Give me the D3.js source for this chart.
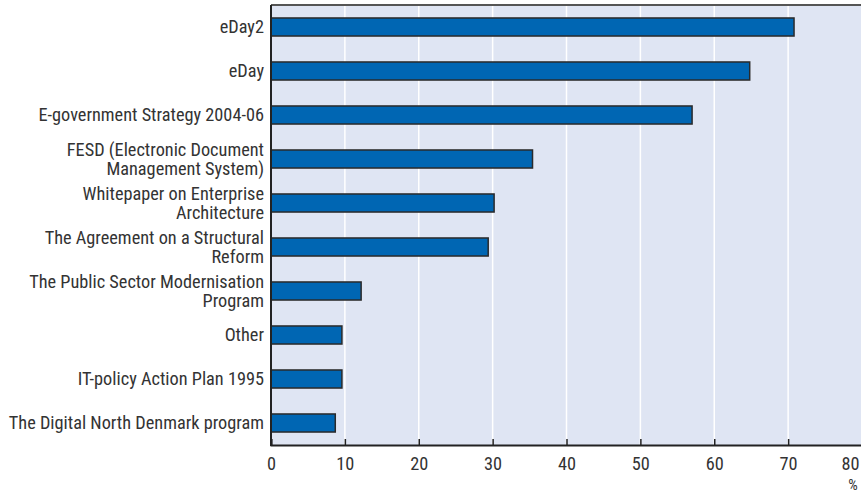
<!DOCTYPE html>
<html><head><meta charset="utf-8">
<script src="https://cdn.jsdelivr.net/npm/d3@7"></script>
<style>body{margin:0;background:#fff}svg{display:block}</style>
</head><body><svg id="c" width="861" height="495"></svg>
<script>
const categories = [
  ["eDay2"],
  ["eDay"],
  ["E-government Strategy 2004-06"],
  ["FESD (Electronic Document", "Management System)"],
  ["Whitepaper on Enterprise", "Architecture"],
  ["The Agreement on a Structural", "Reform"],
  ["The Public Sector Modernisation", "Program"],
  ["Other"],
  ["IT-policy Action Plan 1995"],
  ["The Digital North Denmark program"]
];
const values = [70.8, 64.8, 57.0, 35.4, 30.2, 29.4, 12.2, 9.6, 9.6, 8.7];
const xTicks = [0, 10, 20, 30, 40, 50, 60, 70, 80];
const unitLabel = "%";

(function () {
const font = "'Liberation Sans Narrow','Arial Narrow','Roboto Condensed','Liberation Sans',sans-serif";
const fs = 18.3;
const svg = d3.select("#c");
const pL = 271, pR = 862, pT = 5, pB = 445;
const x = d3.scaleLinear().domain([0, 80]).range([pL, pR]);
const y = d3.scaleBand().domain(d3.range(categories.length)).range([pT, pB]).paddingInner(0.59).paddingOuter(0.295);

svg.append("rect").attr("x", pL).attr("y", pT).attr("width", pR - pL).attr("height", pB - pT).attr("fill", "#dfe5f3");

svg.append("g").selectAll("line").data(xTicks.slice(1)).join("line")
  .attr("x1", d => x(d)).attr("x2", d => x(d)).attr("y1", pT).attr("y2", pB)
  .attr("stroke", "#fff").attr("stroke-width", 1.5);

svg.append("g").selectAll("rect").data(values).join("rect")
  .attr("x", x(0)).attr("y", (d, i) => y(i)).attr("width", d => x(d) - x(0)).attr("height", y.bandwidth())
  .attr("fill", "#0066b3").attr("stroke", "#2a2a2a").attr("stroke-width", 1.5);

svg.append("line").attr("x1", pL).attr("x2", 861).attr("y1", pT).attr("y2", pT).attr("stroke", "#555").attr("stroke-width", 2);

const xAxis = d3.axisBottom(x).tickValues(xTicks).tickSize(-6).tickPadding(12).tickFormat(d3.format("d"));
const ga = svg.append("g").attr("transform", `translate(0,${pB})`).call(xAxis);
ga.select(".domain").attr("stroke", "#222").attr("stroke-width", 2);
ga.selectAll(".tick line").attr("stroke", "#222").attr("stroke-width", 1.5);
ga.selectAll(".tick text").attr("font-family", font).attr("font-size", fs).attr("fill", "#333");
ga.selectAll(".tick").filter(d => d === 80).select("text").attr("text-anchor", "end").attr("dx", -3);

svg.append("text").attr("x", 853).attr("y", 490).attr("text-anchor", "middle")
  .attr("font-family", font).attr("font-size", 15).attr("fill", "#333").text(unitLabel);

svg.append("line").attr("x1", pL).attr("x2", pL).attr("y1", pT).attr("y2", pB + 1).attr("stroke", "#222").attr("stroke-width", 2);

const lh = 19;
const lab = svg.append("g").selectAll("text").data(categories).join("text")
  .attr("text-anchor", "end").attr("font-family", font).attr("font-size", fs).attr("fill", "#333")
  .attr("transform", (d, i) => `translate(264,${y(i) + y.bandwidth() / 2})`);
lab.selectAll("tspan").data(d => d.map((t, j) => ({t, j, n: d.length}))).join("tspan")
  .attr("x", 0).attr("y", d => (d.j - (d.n - 1) / 2) * lh).attr("dy", "0.35em").text(d => d.t);
})();
</script></body></html>
